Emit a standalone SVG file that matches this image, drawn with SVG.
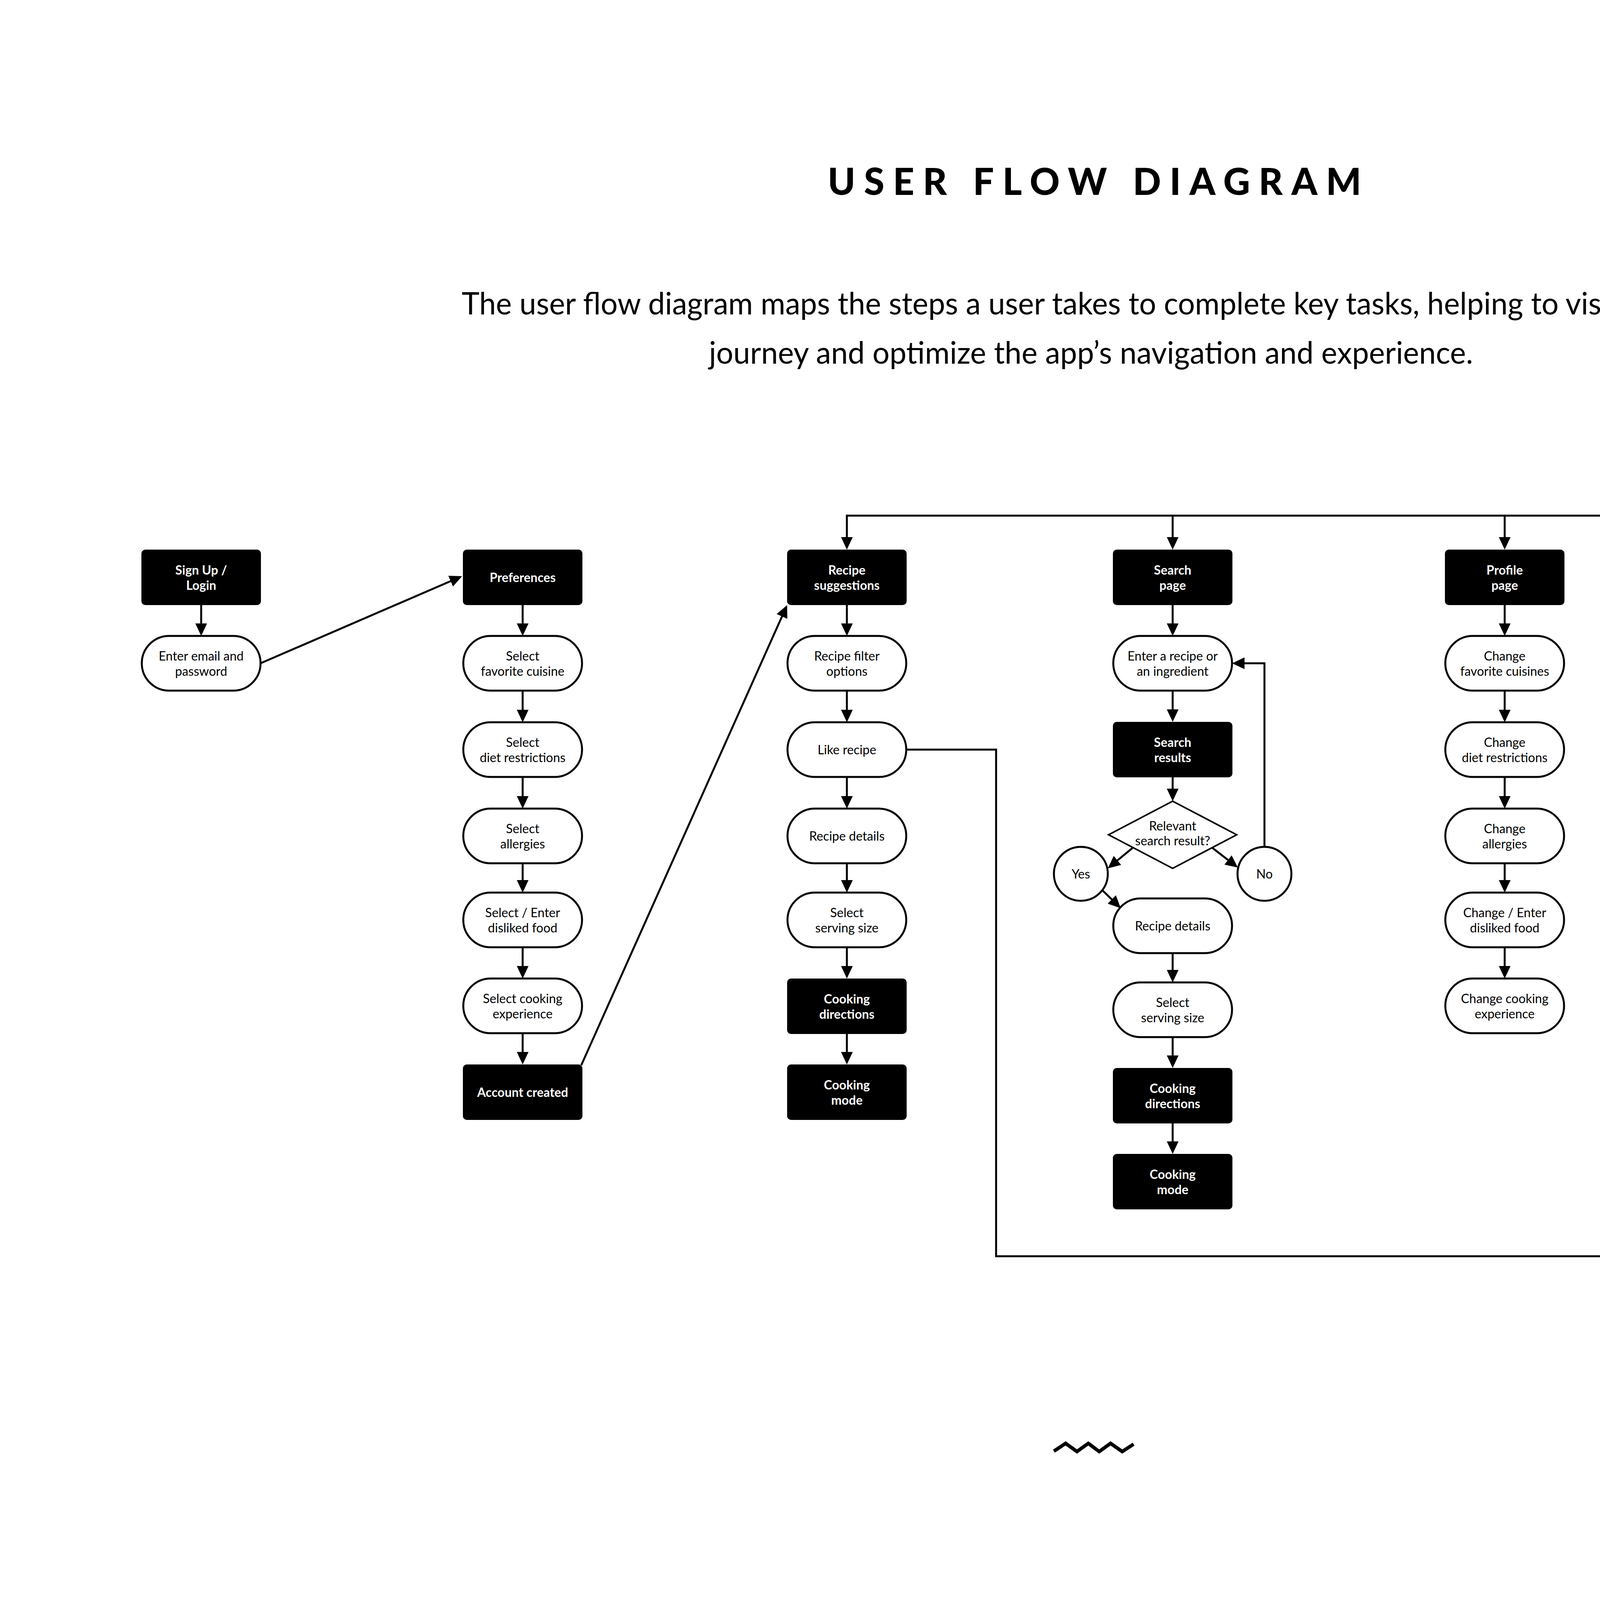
<svg xmlns="http://www.w3.org/2000/svg" width="5600" height="4116" viewBox="0 0 5600 4116">
<defs>
<marker id="ah" markerUnits="userSpaceOnUse" markerWidth="32" markerHeight="30" refX="22" refY="15" orient="auto"><path d="M0,0 L32,15 L0,30 Z" fill="#000"/></marker>
</defs>
<style>
.box{fill:#000}
.st{fill:#fff;stroke:#000;stroke-width:5}
.bt{font-family:Lato,"Liberation Sans",sans-serif;font-size:32px;font-weight:700;fill:#fff;text-anchor:middle}
.wt{font-family:Lato,"Liberation Sans",sans-serif;font-size:32px;font-weight:400;fill:#000;text-anchor:middle}
.ln{fill:none;stroke:#000;stroke-width:5}
.ar{fill:none;stroke:#000;stroke-width:5;marker-end:url(#ah)}
.title{font-family:Lato,"Liberation Sans",sans-serif;font-size:95px;font-weight:900;fill:#000;text-anchor:middle}
.sub{font-family:Lato,"Liberation Sans",sans-serif;font-size:80px;font-weight:400;fill:#000}
</style>
<rect width="5600" height="4116" fill="#fff"/>

<g id="header">
<text class="title" x="2802" y="499" textLength="1366" lengthAdjust="spacing">USER FLOW DIAGRAM</text>
<text class="sub" x="1182" y="805" textLength="3240" lengthAdjust="spacingAndGlyphs">The user flow diagram maps the steps a user takes to complete key tasks, helping to visualize the</text>
<text class="sub" x="1815" y="931" textLength="1956" lengthAdjust="spacingAndGlyphs">journey and optimize the app’s navigation and experience.</text>
</g>

<g id="connectors">
<line class="ar" x1="515" y1="1549" x2="515" y2="1618"/>
<line class="ar" x1="667" y1="1698" x2="1173.8" y2="1479"/>
<line class="ar" x1="1338" y1="1549" x2="1338" y2="1618"/>
<line class="ar" x1="1338" y1="1768" x2="1338" y2="1839"/>
<line class="ar" x1="1338" y1="1989" x2="1338" y2="2060"/>
<line class="ar" x1="1338" y1="2210" x2="1338" y2="2275"/>
<line class="ar" x1="1338" y1="2425" x2="1338" y2="2495"/>
<line class="ar" x1="1338" y1="2645" x2="1338" y2="2715"/>
<line class="ar" x1="1488" y1="2727" x2="2010.9" y2="1558.1"/>
<line class="ln" x1="2165.5" y1="1320" x2="4853.5" y2="1320"/>
<line class="ar" x1="2168" y1="1320" x2="2168" y2="1397"/>
<line class="ar" x1="3002" y1="1320" x2="3002" y2="1397"/>
<line class="ar" x1="3852" y1="1320" x2="3852" y2="1397"/>
<line class="ar" x1="4851" y1="1320" x2="4851" y2="1397"/>
<line class="ar" x1="2168" y1="1549" x2="2168" y2="1618"/>
<line class="ar" x1="2168" y1="1768" x2="2168" y2="1839"/>
<line class="ar" x1="2168" y1="1989" x2="2168" y2="2060"/>
<line class="ar" x1="2168" y1="2210" x2="2168" y2="2275"/>
<line class="ar" x1="2168" y1="2425" x2="2168" y2="2495"/>
<line class="ar" x1="2168" y1="2647" x2="2168" y2="2715"/>
<path class="ar" d="M2320,1919 H2550 V3216 H4681 V1780"/>
<line class="ar" x1="3002" y1="1549" x2="3002" y2="1618"/>
<line class="ar" x1="3002" y1="1768" x2="3002" y2="1838"/>
<line class="ar" x1="3002" y1="1990" x2="3002" y2="2041"/>
<line class="ar" x1="2899" y1="2171" x2="2843.7" y2="2216.6"/>
<line class="ar" x1="3103" y1="2170" x2="3161.1" y2="2214.9"/>
<line class="ar" x1="2822" y1="2279" x2="2861.9" y2="2318"/>
<path class="ar" d="M3237,2168 V1698 H3164"/>
<line class="ar" x1="3002" y1="2440" x2="3002" y2="2505"/>
<line class="ar" x1="3002" y1="2655" x2="3002" y2="2724"/>
<line class="ar" x1="3002" y1="2876" x2="3002" y2="2944"/>
<line class="ar" x1="3852" y1="1549" x2="3852" y2="1618"/>
<line class="ar" x1="3852" y1="1768" x2="3852" y2="1839"/>
<line class="ar" x1="3852" y1="1989" x2="3852" y2="2060"/>
<line class="ar" x1="3852" y1="2210" x2="3852" y2="2275"/>
<line class="ar" x1="3852" y1="2425" x2="3852" y2="2495"/>
<line class="ar" x1="4789" y1="1549" x2="4789" y2="1617"/>
<line class="ar" x1="4921" y1="1549" x2="4921" y2="1617"/>
<line class="ar" x1="5039" y1="1770" x2="5039" y2="1828"/>
<line class="ar" x1="5039" y1="1980" x2="5039" y2="2059"/>
<line class="ar" x1="5039" y1="2209" x2="5039" y2="2274"/>
<path class="ar" d="M5191,2354 H5240 V1699 H5202"/>
</g>

<g id="n-signup"><rect class="box" x="362" y="1407" width="306" height="142" rx="10"/><text class="bt" x="515" y="1471">Sign Up /</text><text class="bt" x="515" y="1510">Login</text></g>
<g id="n-email"><rect class="st" x="363" y="1628" width="304" height="140" rx="70"/><text class="wt" x="515" y="1691">Enter email and</text><text class="wt" x="515" y="1730">password</text></g>

<g id="n-preferences"><rect class="box" x="1185" y="1407" width="306" height="142" rx="10"/><text class="bt" x="1338" y="1490">Preferences</text></g>
<g id="n-cuisine"><rect class="st" x="1186" y="1628" width="304" height="140" rx="70"/><text class="wt" x="1338" y="1691">Select</text><text class="wt" x="1338" y="1730">favorite cuisine</text></g>
<g id="n-diet"><rect class="st" x="1186" y="1849" width="304" height="140" rx="70"/><text class="wt" x="1338" y="1912">Select</text><text class="wt" x="1338" y="1951">diet restrictions</text></g>
<g id="n-allergies"><rect class="st" x="1186" y="2070" width="304" height="140" rx="70"/><text class="wt" x="1338" y="2133">Select</text><text class="wt" x="1338" y="2172">allergies</text></g>
<g id="n-disliked"><rect class="st" x="1186" y="2285" width="304" height="140" rx="70"/><text class="wt" x="1338" y="2348">Select / Enter</text><text class="wt" x="1338" y="2387">disliked food</text></g>
<g id="n-experience"><rect class="st" x="1186" y="2505" width="304" height="140" rx="70"/><text class="wt" x="1338" y="2568">Select cooking</text><text class="wt" x="1338" y="2607">experience</text></g>
<g id="n-account"><rect class="box" x="1185" y="2725" width="306" height="142" rx="10"/><text class="bt" x="1338" y="2808">Account created</text></g>

<g id="n-suggestions"><rect class="box" x="2015" y="1407" width="306" height="142" rx="10"/><text class="bt" x="2168" y="1471">Recipe</text><text class="bt" x="2168" y="1510">suggestions</text></g>
<g id="n-filter"><rect class="st" x="2016" y="1628" width="304" height="140" rx="70"/><text class="wt" x="2168" y="1691">Recipe filter</text><text class="wt" x="2168" y="1730">options</text></g>
<g id="n-like"><rect class="st" x="2016" y="1849" width="304" height="140" rx="70"/><text class="wt" x="2168" y="1931">Like recipe</text></g>
<g id="n-details1"><rect class="st" x="2016" y="2070" width="304" height="140" rx="70"/><text class="wt" x="2168" y="2152">Recipe details</text></g>
<g id="n-serving1"><rect class="st" x="2016" y="2285" width="304" height="140" rx="70"/><text class="wt" x="2168" y="2348">Select</text><text class="wt" x="2168" y="2387">serving size</text></g>
<g id="n-directions1"><rect class="box" x="2015" y="2505" width="306" height="142" rx="10"/><text class="bt" x="2168" y="2569">Cooking</text><text class="bt" x="2168" y="2608">directions</text></g>
<g id="n-mode1"><rect class="box" x="2015" y="2725" width="306" height="142" rx="10"/><text class="bt" x="2168" y="2789">Cooking</text><text class="bt" x="2168" y="2828">mode</text></g>

<g id="n-search"><rect class="box" x="2849" y="1407" width="306" height="142" rx="10"/><text class="bt" x="3002" y="1471">Search</text><text class="bt" x="3002" y="1510">page</text></g>
<g id="n-enter"><rect class="st" x="2850" y="1628" width="304" height="140" rx="70"/><text class="wt" x="3002" y="1691">Enter a recipe or</text><text class="wt" x="3002" y="1730">an ingredient</text></g>
<g id="n-results"><rect class="box" x="2849" y="1848" width="306" height="142" rx="10"/><text class="bt" x="3002" y="1912">Search</text><text class="bt" x="3002" y="1951">results</text></g>
<g id="n-relevant"><polygon points="3002,2051 3166,2137 3002,2223 2838,2137" fill="#fff" stroke="#000" stroke-width="4"/><text class="wt" x="3002" y="2126">Relevant</text><text class="wt" x="3002" y="2164">search result?</text></g>
<g id="n-yes"><circle class="st" cx="2767" cy="2237" r="69"/><text class="wt" x="2767" y="2249">Yes</text></g>
<g id="n-no"><circle class="st" cx="3237" cy="2237" r="69"/><text class="wt" x="3237" y="2249">No</text></g>
<g id="n-details2"><rect class="st" x="2850" y="2300" width="304" height="140" rx="70"/><text class="wt" x="3002" y="2382">Recipe details</text></g>
<g id="n-serving2"><rect class="st" x="2850" y="2515" width="304" height="140" rx="70"/><text class="wt" x="3002" y="2578">Select</text><text class="wt" x="3002" y="2617">serving size</text></g>
<g id="n-directions2"><rect class="box" x="2849" y="2734" width="306" height="142" rx="10"/><text class="bt" x="3002" y="2798">Cooking</text><text class="bt" x="3002" y="2837">directions</text></g>
<g id="n-mode2"><rect class="box" x="2849" y="2954" width="306" height="142" rx="10"/><text class="bt" x="3002" y="3018">Cooking</text><text class="bt" x="3002" y="3057">mode</text></g>

<g id="n-profile"><rect class="box" x="3699" y="1407" width="306" height="142" rx="10"/><text class="bt" x="3852" y="1471">Profile</text><text class="bt" x="3852" y="1510">page</text></g>
<g id="n-ch-cuisines"><rect class="st" x="3700" y="1628" width="304" height="140" rx="70"/><text class="wt" x="3852" y="1691">Change</text><text class="wt" x="3852" y="1730">favorite cuisines</text></g>
<g id="n-ch-diet"><rect class="st" x="3700" y="1849" width="304" height="140" rx="70"/><text class="wt" x="3852" y="1912">Change</text><text class="wt" x="3852" y="1951">diet restrictions</text></g>
<g id="n-ch-allergies"><rect class="st" x="3700" y="2070" width="304" height="140" rx="70"/><text class="wt" x="3852" y="2133">Change</text><text class="wt" x="3852" y="2172">allergies</text></g>
<g id="n-ch-disliked"><rect class="st" x="3700" y="2285" width="304" height="140" rx="70"/><text class="wt" x="3852" y="2348">Change / Enter</text><text class="wt" x="3852" y="2387">disliked food</text></g>
<g id="n-ch-experience"><rect class="st" x="3700" y="2505" width="304" height="140" rx="70"/><text class="wt" x="3852" y="2568">Change cooking</text><text class="wt" x="3852" y="2607">experience</text></g>

<g id="n-favorites"><rect class="box" x="4697" y="1407" width="306" height="142" rx="10"/><text class="bt" x="4850" y="1471">Favorites</text><text class="bt" x="4850" y="1510">page</text></g>
<g id="n-liked"><rect class="box" x="4523" y="1627" width="306" height="143" rx="10"/><text class="bt" x="4676" y="1711">Liked recipes</text></g>
<g id="n-cookbooks"><rect class="box" x="4886" y="1627" width="306" height="143" rx="10"/><text class="bt" x="5039" y="1711">Cookbooks</text></g>
<g id="n-create"><rect class="box" x="4886" y="1838" width="306" height="142" rx="10"/><text class="bt" x="5039" y="1902">Create new</text><text class="bt" x="5039" y="1941">cookbook</text></g>
<g id="n-name"><rect class="st" x="4887" y="2069" width="304" height="140" rx="70"/><text class="wt" x="5039" y="2132">Enter a name for</text><text class="wt" x="5039" y="2171">new cookbook</text></g>
<g id="n-add"><rect class="st" x="4887" y="2284" width="304" height="140" rx="70"/><text class="wt" x="5039" y="2347">Add recipes to</text><text class="wt" x="5039" y="2386">cookbook</text></g>

<g id="squiggle"><polyline points="2698,3715 2728,3695 2757,3716 2786,3695 2814,3716 2843,3695 2873,3716 2902,3697" fill="none" stroke="#000" stroke-width="9" stroke-linejoin="miter"/></g>
</svg>
